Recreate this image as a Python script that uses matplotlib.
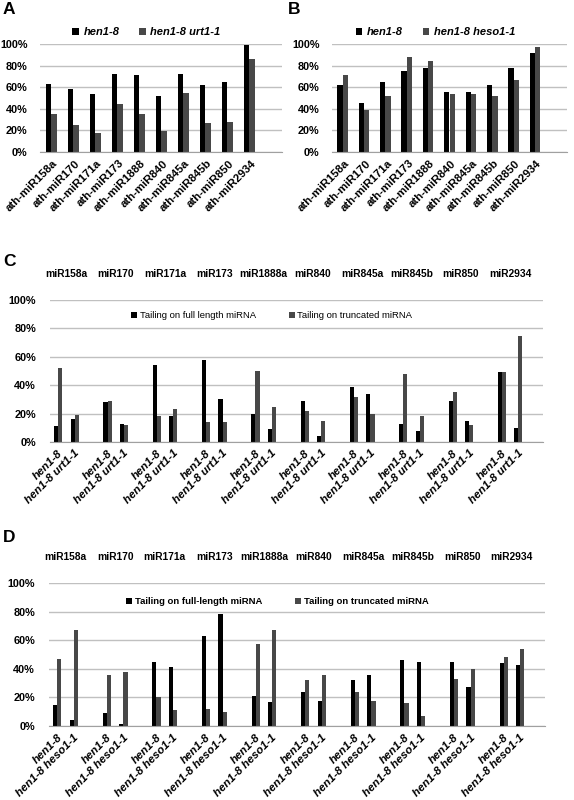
import numpy as np
import matplotlib
matplotlib.use("Agg")
import matplotlib.pyplot as plt
import matplotlib.transforms as mtransforms
from matplotlib.ticker import FuncFormatter

plt.rcParams['font.family'] = ['Liberation Sans', 'DejaVu Sans']

# panel A / B data (% tailed)
mirs_ab = ["ath-miR158a", "ath-miR170", "ath-miR171a", "ath-miR173", "ath-miR1888",
           "ath-miR840", "ath-miR845a", "ath-miR845b", "ath-miR850", "ath-miR2934"]
a_hen1 = [63, 58, 54, 72, 71, 52, 72, 62, 65, 99]
a_urt1 = [35, 25, 18, 44, 35, 19, 55, 27, 28, 86]
b_hen1 = [62, 45, 65, 75, 78, 56, 56, 62, 78, 92]
b_heso1 = [71, 39, 52, 88, 84, 54, 54, 52, 67, 97]

# panel C / D data: per miRNA, [hen1-8, double mutant]
mirs_cd = ["miR158a", "miR170", "miR171a", "miR173", "miR1888a",
           "miR840", "miR845a", "miR845b", "miR850", "miR2934"]
c_full = [[11, 16], [28, 13], [54, 18], [58, 30], [20, 9],
          [29, 4], [39, 34], [13, 8], [29, 15], [49, 10]]
c_trunc = [[52, 19], [29, 12], [18, 23], [14, 14], [50, 25],
           [22, 15], [32, 20], [48, 18], [35, 12], [49, 75]]
d_full = [[15, 4], [9, 1.5], [45, 41], [63, 78], [21, 17],
          [24, 17.5], [32, 36], [46, 45], [45, 27.5], [44, 42.5]]
d_trunc = [[47, 67], [36, 38], [20, 11], [12, 10], [57, 67],
           [32, 36], [24, 17.5], [16, 7], [33, 40], [48, 54]]

BLACK = "#000000"
GREY = "#484848"
GRID = "#c0c0c0"
pct = FuncFormatter(lambda v, _: f"{v:.0f}%")


def style_axis(ax):
    ax.set_ylim(0, 100)
    ax.set_yticks(np.arange(0, 101, 20))
    ax.yaxis.set_major_formatter(pct)
    ax.yaxis.grid(True, color=GRID, linewidth=1)
    ax.set_axisbelow(True)
    for side in ["top", "right", "left"]:
        ax.spines[side].set_visible(False)
    ax.spines["bottom"].set_color("#a0a0a0")
    ax.tick_params(length=0)
    for lab in ax.get_yticklabels():
        lab.set_fontweight("bold")
        lab.set_fontsize(7.8)


def nudge_xlabels(ax, dx_px):
    shift = mtransforms.ScaledTranslation(dx_px / 100.0, 0, ax.figure.dpi_scale_trans)
    for lab in ax.get_xticklabels():
        lab.set_transform(lab.get_transform() + shift)


def simple_panel(ax, s1, s2, names, pad_pts):
    x = np.arange(len(names))
    w = 0.25
    ax.bar(x - w / 2, s1[0], w, color=BLACK, label=s1[1])
    ax.bar(x + w / 2, s2[0], w, color=GREY, label=s2[1])
    ax.set_xlim(-0.5, len(names) + 0.5)
    style_axis(ax)
    ax.tick_params(axis="y", pad=pad_pts)
    ax.set_xticks(x)
    ax.set_xticklabels(names, rotation=45, ha="right", va="center",
                       rotation_mode="anchor", fontsize=8.2, fontweight="bold")
    ax.tick_params(axis="x", pad=7)
    nudge_xlabels(ax, 5)
    ax.legend(loc="lower center", bbox_to_anchor=(0.44, 1.0), ncol=2, frameon=False,
              handlelength=0.6, handleheight=0.6, handletextpad=0.4, columnspacing=1.8,
              prop={"weight": "bold", "style": "italic", "size": 8}, borderaxespad=0.2)


def group_panel(ax, full, trunc, mut_name, leg_names, leg_bold, leg_y, leg_x):
    w = 0.25
    xs, labels = [], []
    for g in range(len(mirs_cd)):
        xs += [3 * g, 3 * g + 1]
        labels += ["hen1-8", mut_name]
    xs = np.array(xs)
    full_v = np.array(full).ravel()
    trunc_v = np.array(trunc).ravel()
    ax.bar(xs - w / 2, full_v, w, color=BLACK, label=leg_names[0])
    ax.bar(xs + w / 2, trunc_v, w, color=GREY, label=leg_names[1])
    ax.set_xlim(-0.5, 3 * len(mirs_cd) - 0.5)
    style_axis(ax)
    ax.tick_params(axis="y", pad=10)
    ax.set_xticks(xs)
    ax.set_xticklabels(labels, rotation=45, ha="right", va="center",
                       rotation_mode="anchor", fontsize=8.2, fontweight="bold",
                       style="italic")
    ax.tick_params(axis="x", pad=7)
    nudge_xlabels(ax, 3)
    for g, name in enumerate(mirs_cd):
        ax.text(3 * g + 0.5, 1.18, name, transform=ax.get_xaxis_transform(),
                ha="center", va="center", fontsize=7.4, fontweight="bold")
    ax.legend(loc="center", bbox_to_anchor=(leg_x, leg_y), ncol=2, frameon=False,
              handlelength=0.6, handleheight=0.6, handletextpad=0.3, columnspacing=3.5,
              prop={"weight": "bold" if leg_bold else "normal", "size": 6.8})


fig = plt.figure(figsize=(5.74, 8.0), dpi=100)
W, H = 574.0, 800.0


def add_axes(x0, x1, ytop, ybot):
    return fig.add_axes([x0 / W, 1 - ybot / H, (x1 - x0) / W, (ybot - ytop) / H])


ax_a = add_axes(40, 282, 44, 152)
simple_panel(ax_a, (a_hen1, "hen1-8"), (a_urt1, "hen1-8 urt1-1"), mirs_ab, 9)
ax_b = add_axes(332, 567, 44, 152)
simple_panel(ax_b, (b_hen1, "hen1-8"), (b_heso1, "hen1-8 heso1-1"), mirs_ab, 9)

ax_c = add_axes(50, 543, 300, 442)
group_panel(ax_c, c_full, c_trunc, "hen1-8 urt1-1",
            ["Tailing on full length miRNA", "Tailing on truncated miRNA"], False, 0.89, 0.45)
ax_d = add_axes(49, 545, 583, 726)
group_panel(ax_d, d_full, d_trunc, "hen1-8 heso1-1",
            ["Tailing on full-length miRNA", "Tailing on truncated miRNA"], True, 0.87, 0.46)

for letter, (px, py) in zip("ABCD", [(3, 10), (288, 10), (3, 261), (3, 538)]):
    fig.text(px / W, 1 - py / H, letter, fontsize=12.5, fontweight="bold",
             ha="left", va="center")

fig.savefig("out.png", dpi=100)
